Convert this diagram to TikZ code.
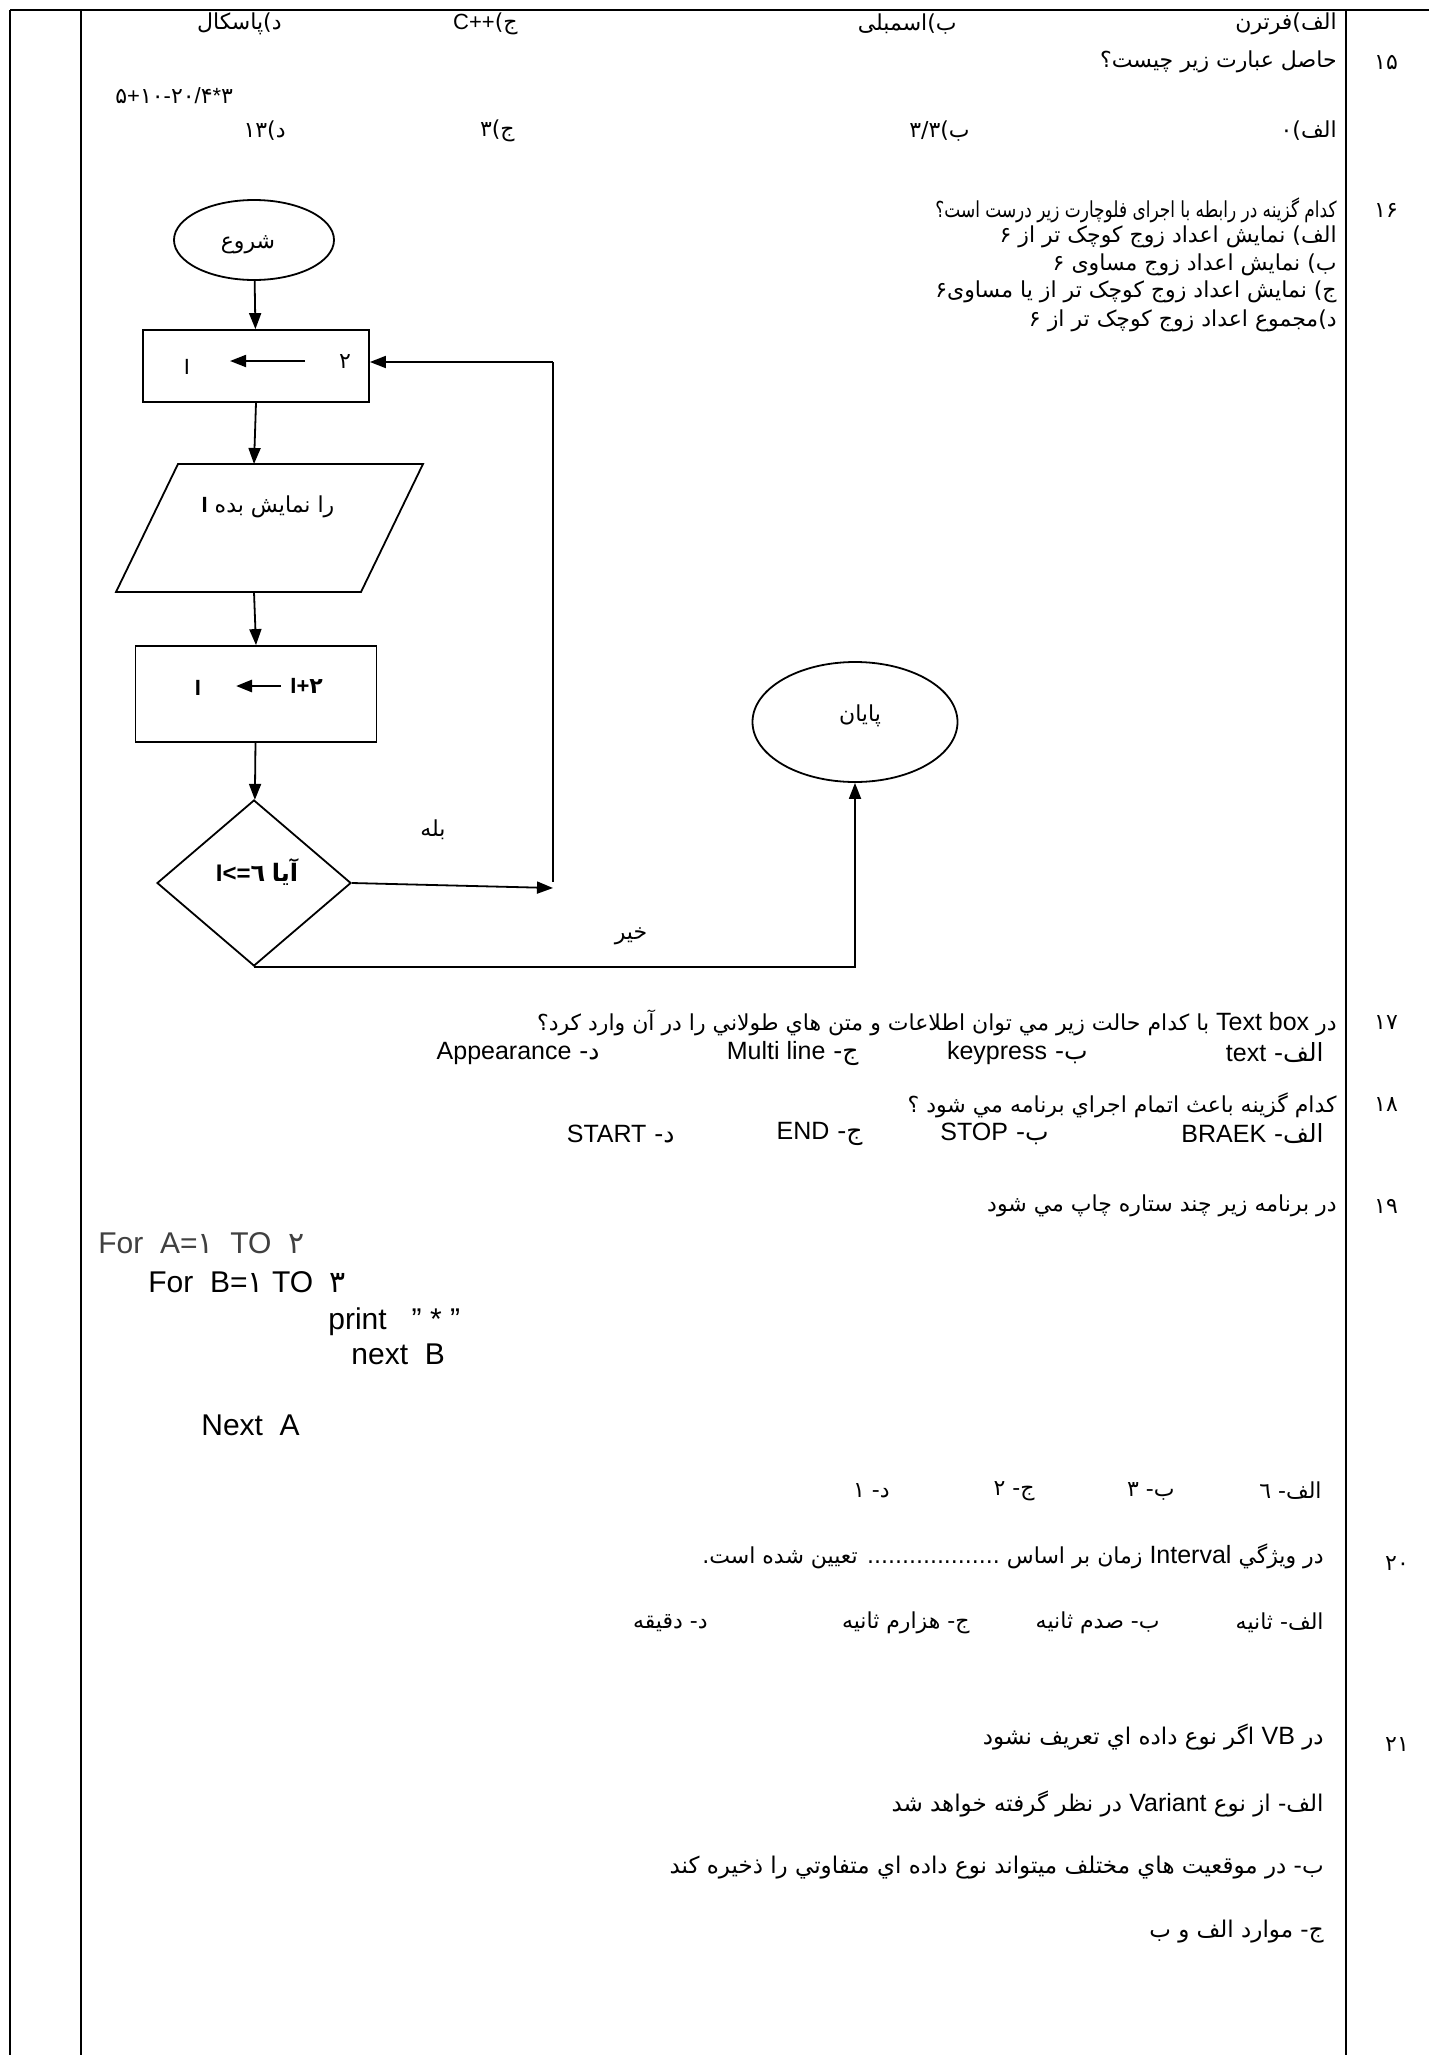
\documentclass[tikz,border=0pt]{standalone}
\usepackage{fontspec}
\setmainfont{Liberation Sans}
\newfontfamily\arf[Script=Arabic]{DejaVu Sans}
\newfontfamily\laf{Liberation Sans}
\TeXXeTstate=1
\usetikzlibrary{arrows.meta,shapes.geometric}
\newcommand\RL[1]{{\arf\beginR#1\endR}}
\newcommand\LR[1]{\beginL{\laf#1}\endL}
\newcommand\LRb[1]{\beginL{\laf\fontsize{12.5}{15}\selectfont#1}\endL}
\tikzset{
  tbl/.style={line width=1pt},
  ln/.style={line width=0.9pt},
  arr/.style={ln,-{Triangle[length=8pt,width=6pt]}},
  rt/.style={anchor=east,inner sep=0pt,font=\fontsize{11}{13}\selectfont},
  lt/.style={anchor=west,inner sep=0pt,font=\fontsize{11}{13}\selectfont},
  num/.style={inner sep=0pt,font=\fontsize{11}{13}\selectfont},
  opt/.style={rt,font=\fontsize{12.5}{15}\selectfont},
  codet/.style={lt,font=\fontsize{15}{18}\selectfont},
  fc/.style={draw,ln,inner sep=0pt},
  fct/.style={inner sep=0pt,font=\fontsize{11}{13}\selectfont},
}
\begin{document}
\begin{tikzpicture}[x=0.5pt,y=-0.5pt]
\useasboundingbox (0,0) rectangle (1429,2055);
\fill[white] (0,0) rectangle (1429,2055);
% table
\draw[tbl] (10,10) -- (1429,10);
\draw[tbl] (10,10) -- (10,2055);
\draw[tbl] (81,10) -- (81,2055);
\draw[tbl] (1346,10) -- (1346,2055);
% row 1
\node[rt] (r1a) at (1337,24) {\RL{الف)فرترن}};
\node[rt] (r1b) at (957,24) {\RL{ب)اسمبلی}};
\node[rt] (r1c) at (518,24) {\RL{ج)\LR{C++}}};
\node[rt] (r1d) at (282,24) {\RL{د)پاسکال}};
% Q15
\node[num] (n15) at (1386,62) {\arf ۱۵};
\node[rt] (q15) at (1337,62) {\RL{حاصل عبارت زیر چیست؟}};
\node[lt] (q15e) at (115,96) {{\arf ۵}{\laf +}{\arf ۱۰}{\laf -}{\arf ۲۰}{\laf /}{\arf ۴}{\laf *}{\arf ۳}};
\node[rt] (a15a) at (1337,131) {\RL{الف)۰}};
\node[rt] (a15b) at (970,131) {\RL{ب)۳/۳}};
\node[rt] (a15c) at (515,131) {\RL{ج)۳}};
\node[rt] (a15d) at (286,131) {\RL{د)۱۳}};
% Q16
\node[num] (n16) at (1386,210) {\arf ۱۶};
\node[rt] (q16) at (1337,210) {\scalebox{0.77}[1]{\RL{کدام گزینه در رابطه با اجرای فلوچارت زیر درست است؟}}};
\node[rt] (q16a) at (1337,237) {\RL{الف) نمایش اعداد زوج کوچک تر از ۶}};
\node[rt] (q16b) at (1337,265) {\RL{ب) نمایش اعداد زوج مساوی ۶}};
\node[rt] (q16c) at (1337,292) {\RL{ج) نمایش اعداد زوج کوچک تر از یا مساوی۶}};
\node[rt] (q16d) at (1337,321) {\RL{د)مجموع اعداد زوج کوچک تر از ۶}};
% flowchart
\node[fc,ellipse,minimum width=80pt,minimum height=40pt] (start) at (254,240) {};
\node[fct] (startt) at (248,245) {\RL{شروع}};
\node[fc,rectangle,minimum width=113pt,minimum height=36pt] (box1) at (256,366) {};
\node[fct] (b1I) at (187,367) {\laf I};
\node[fct] (b1two) at (345,362) {\arf ۲};
\coordinate (b1a) at (305,361);
\coordinate (b1b) at (230,361);
\draw[arr] (b1a) -- (b1b);
\coordinate (pTL) at (178,464);
\coordinate (pTR) at (423,464);
\coordinate (pBR) at (361,592);
\coordinate (pBL) at (116,592);
\draw[ln] (pTL) -- (pTR) -- (pBR) -- (pBL) -- cycle;
\coordinate (paraTop) at (254,464);
\coordinate (paraBot) at (254,592);
\node[fct] (parat) at (268,507) {\RL{را نمایش بده \LR{\bfseries I}}};
\node[fc,rectangle,minimum width=120.5pt,minimum height=48pt] (box2) at (256,694) {};
\node[fct] (b2I) at (198,688) {\laf\bfseries I};
\node[fct,anchor=west] (b2expr) at (290,686) {\laf\bfseries I+{\arf\bfseries ۲}};
\coordinate (b2a) at (281,686);
\coordinate (b2b) at (236,686);
\draw[arr,line width=1.4pt] (b2a) -- (b2b);
\node[fc,diamond,minimum width=97pt,minimum height=83pt] (dia) at (254,883) {};
\node[fct,font=\fontsize{12}{14}\selectfont] (diat) at (257,872) {{\laf\bfseries I<=}{\arf\bfseries ٦} {\arf\bfseries آیا}};
\node[fc,ellipse,minimum width=102.5pt,minimum height=60pt] (endE) at (855,722) {};
\node[fct] (endt) at (860,716) {\RL{پایان}};
\node[fct] (yes) at (433,830) {\RL{بله}};
\node[fct] (no) at (631,936) {\RL{خیر}};
\coordinate (loopTop) at (553,362);
\coordinate (loopBot) at (553,882);
\coordinate (yesEnd) at (553,888);
\draw[arr] (start) -- (box1);
\draw[arr] (box1.south) -- (paraTop);
\draw[arr] (paraBot) -- (box2.north);
\draw[arr] (box2) -- (dia);
\draw[arr] (dia.east) -- (yesEnd);
\draw[ln] (loopBot) -- (loopTop);
\draw[arr] (loopTop) -- (box1.east |- loopTop);
\draw[arr] (dia.south) -- (dia.south -| endE.south) -- (endE.south);
% Q17
\node[num] (n17) at (1386,1023) {\arf ۱۷};
\node[rt] (q17) at (1337,1023) {\RL{در \LRb{Text box} با کدام حالت زیر مي توان اطلاعات و متن هاي طولاني را در آن وارد كرد؟}};
\node[opt] (q17a) at (1324,1053) {\RL{الف- \LR{text}}};
\node[opt] (q17b) at (1088,1053) {\RL{ب- \LR{keypress}}};
\node[opt] (q17c) at (859,1053) {\RL{ج- \LR{Multi line}}};
\node[opt] (q17d) at (600,1053) {\RL{د- \LR{Appearance}}};
% Q18
\node[num] (n18) at (1386,1105) {\arf ۱۸};
\node[rt] (q18) at (1337,1105) {\RL{کدام گزینه باعث اتمام اجراي برنامه مي شود ؟}};
\node[opt] (q18a) at (1324,1134) {\RL{الف- \LR{BRAEK}}};
\node[opt] (q18b) at (1049,1134) {\RL{ب- \LR{STOP}}};
\node[opt] (q18c) at (863,1134) {\RL{ج- \LR{END}}};
\node[opt] (q18d) at (675,1134) {\RL{د- \LR{START}}};
% Q19
\node[num] (n19) at (1386,1206) {\arf ۱۹};
\node[rt] (q19) at (1337,1206) {\RL{در برنامه زیر چند ستاره چاپ مي شود}};
\node[codet,text=black!75] (c1) at (98,1243) {For\ \ A={\arf ۱}\ \ TO\ \ {\arf ۲}};
\node[codet] (c2) at (148,1282) {For\ \ B={\arf ۱} TO\ \ {\arf ۳}};
\node[codet] (c3) at (328,1322) {print\ \ \ "\ *\ "};
\node[codet] (c4) at (351,1354) {next\ \ B};
\node[codet] (c5) at (201,1425) {Next\ \ A};
\node[rt] (q19a) at (1322,1491) {\RL{الف- ٦}};
\node[rt] (q19b) at (1175,1491) {\RL{ب- ٣}};
\node[rt] (q19c) at (1035,1491) {\RL{ج- ٢}};
\node[rt] (q19d) at (890,1491) {\RL{د- ١}};
% Q20
\node[num] (n20) at (1397,1563) {\arf ۲۰};
\node[rt] (q20) at (1324,1556) {\RL{در ویژگي \LRb{Interval} زمان بر اساس ................... تعيين شده است.}};
\node[rt] (q20a) at (1324,1623) {\RL{الف- ثانيه}};
\node[rt] (q20b) at (1160,1623) {\RL{ب- صدم ثانيه}};
\node[rt] (q20c) at (970,1623) {\RL{ج- هزارم ثانيه}};
\node[rt] (q20d) at (708,1623) {\RL{د- دقيقه}};
% Q21
\node[num] (n21) at (1397,1744) {\arf ۲۱};
\node[rt,font=\fontsize{11.5}{14}\selectfont] (q21) at (1324,1737) {\RL{در \LRb{VB} اگر نوع داده اي تعريف نشود}};
\node[rt,font=\fontsize{11.5}{14}\selectfont] (q21a) at (1324,1804) {\RL{الف- از نوع \LRb{Variant} در نظر گرفته خواهد شد}};
\node[rt,font=\fontsize{11.5}{14}\selectfont] (q21b) at (1324,1868) {\RL{ب- در موقعيت هاي مختلف ميتواند نوع داده اي متفاوتي را ذخيره كند}};
\node[rt,font=\fontsize{11.5}{14}\selectfont] (q21c) at (1324,1932) {\RL{ج- موارد الف و ب}};
\end{tikzpicture}
\end{document}
